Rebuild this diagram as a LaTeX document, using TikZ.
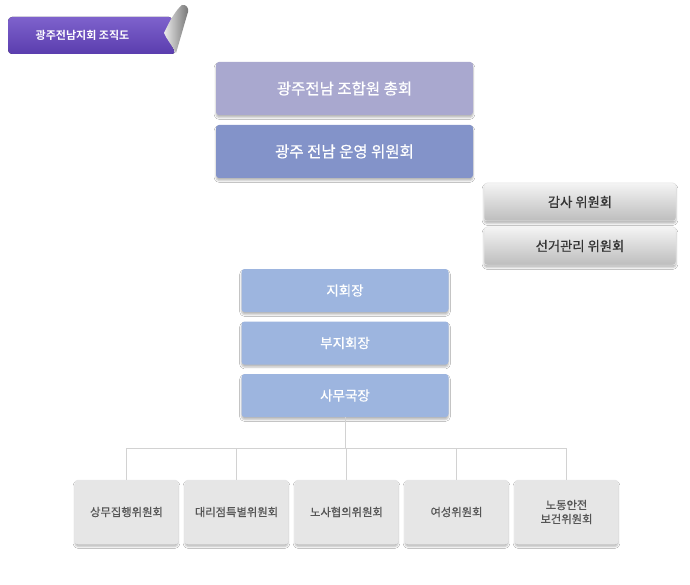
\documentclass[tikz,border=0pt]{standalone}
\usepackage{fontspec}
\setmainfont{Noto Sans CJK KR}
\newfontfamily\komed{Noto Sans CJK KR}[FakeBold=0.7]
\newfontfamily\kobold{Noto Sans CJK KR Bold}
\usetikzlibrary{shadows.blur,positioning}
\definecolor{purpleA}{HTML}{7E62CC}
\definecolor{purpleB}{HTML}{5A3DAE}
\definecolor{boxA}{HTML}{A9A8CF}
\definecolor{boxB}{HTML}{8393C9}
\definecolor{boxC}{HTML}{9DB5DF}
\definecolor{grayTop}{HTML}{F4F4F4}
\definecolor{grayBot}{HTML}{BDBDBD}
\definecolor{lowbox}{HTML}{E6E6E6}
\definecolor{lineC}{HTML}{D2D2D2}
\definecolor{txtDark}{HTML}{333333}
\definecolor{txtMid}{HTML}{555555}
\tikzset{
  shd/.style={blur shadow={shadow xshift=0pt,shadow yshift=-2.5pt,shadow opacity=28,shadow blur radius=1.8pt}},
  topbox/.style={shd,rounded corners=3pt,minimum width=257pt,minimum height=53pt,inner sep=0pt,text=white,font=\komed\fontsize{15.5}{17}\selectfont},
  midbox/.style={shd,rounded corners=3pt,fill=boxC,minimum width=207pt,minimum height=43pt,inner sep=0pt,text=white,font=\komed\fontsize{13.5}{15}\selectfont},
  graybox/.style={shd,rounded corners=3pt,draw=black!10,line width=0.5pt,top color=grayTop,bottom color=grayBot,minimum width=192pt,minimum height=38pt,inner sep=0pt,text=txtDark,font=\komed\fontsize{13.3}{15}\selectfont},
  lowboxs/.style={shd,rounded corners=3pt,draw=blue!6!black!9,line width=0.5pt,fill=lowbox,minimum width=103pt,minimum height=64pt,inner sep=0pt,text=txtMid,align=center,font=\komed\fontsize{11.3}{14}\selectfont},
  conn/.style={draw=lineC,line width=1pt}
}
\begin{document}
\begin{tikzpicture}[x=1pt,y=-1pt]
\useasboundingbox[fill=white] (0,0) rectangle (690,585);
% banner
\fill[top color=purpleA,bottom color=purpleB,rounded corners=4pt] (8,17) -- (173,17) -- (165,33) -- (176,54) -- (8,54) -- cycle;
\shade[left color=black!8,right color=black!55] (164,33) .. controls (170,20) and (176,10) .. (182,5) .. controls (186,4) and (189,8) .. (188,12) .. controls (184,25) and (180,40) .. (176,53) .. controls (172,45) and (167,40) .. (164,33) -- cycle;
\node[text=white,font=\kobold\fontsize{11}{12}\selectfont] (banner) at (82.5,35.5) {광주전남지회 조직도};
% top boxes
\node[topbox,fill=boxA] (gen) at (344.5,88.5) {광주전남 조합원 총회};
\node[topbox,fill=boxB] (ops) at (344.5,151.5) {광주 전남 운영 위원회};
% gray boxes
\node[graybox] (audit) at (580,202) {감사 위원회};
\node[graybox] (elect) at (580,246) {선거관리 위원회};
% middle boxes
\node[midbox] (chief) at (345,290.5) {지회장};
\node[midbox] (vice) at (345,343) {부지회장};
\node[midbox] (sec) at (345,395.5) {사무국장};
% bottom boxes
\node[lowboxs] (c1) at (126.5,512) {상무집행위원회};
\node[lowboxs] (c2) at (236.5,512) {대리점특별위원회};
\node[lowboxs] (c3) at (346.5,512) {노사협의위원회};
\node[lowboxs] (c4) at (456.5,512) {여성위원회};
\node[lowboxs] (c5) at (566.5,512) {노동안전\\보건위원회};
% connectors
\coordinate (bus) at (345,448);
\draw[conn] (sec.south) -- (bus);
\draw[conn] (c1.north) -- (c1.north |- bus) -- (c5.north |- bus) -- (c5.north);
\draw[conn] (c2.north) -- (c2.north |- bus);
\draw[conn] (c3.north) -- (c3.north |- bus);
\draw[conn] (c4.north) -- (c4.north |- bus);
\end{tikzpicture}
\end{document}
